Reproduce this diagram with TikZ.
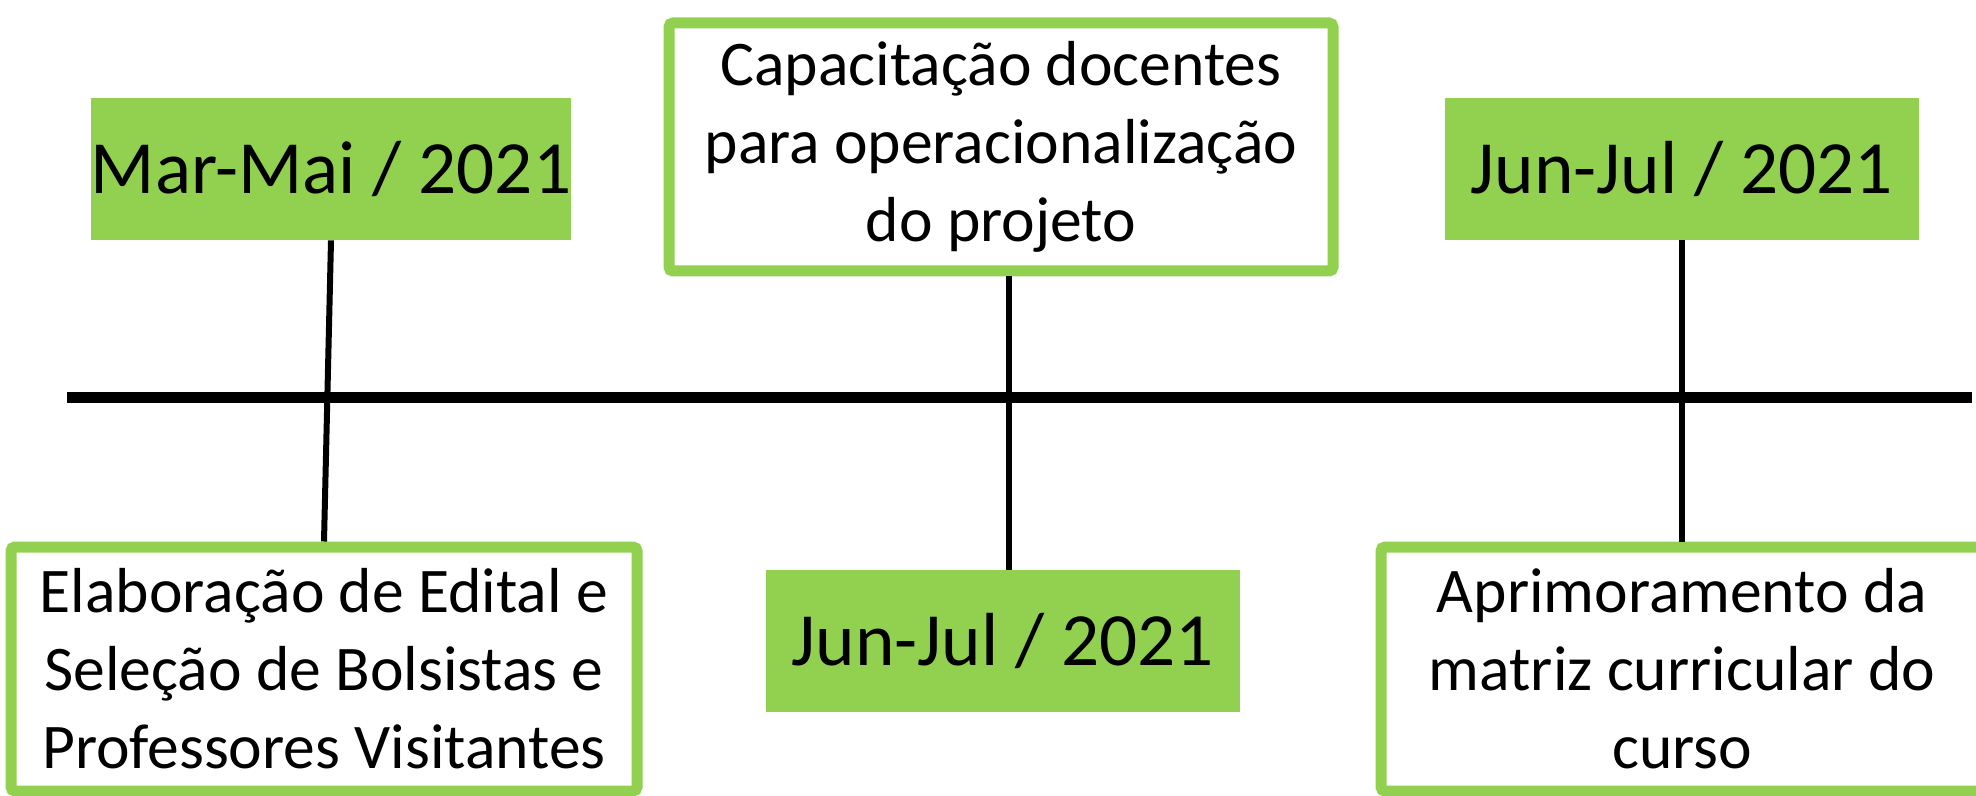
\documentclass[tikz,border=0pt]{standalone}
\usepackage{fontspec}
\setmainfont{Carlito}
\usetikzlibrary{positioning}

\definecolor{officegreen}{HTML}{92D050}

\tikzset{
	datebox/.style={fill=officegreen, inner sep=0pt, minimum width=237pt, minimum height=71pt,
		font=\fontsize{37.6pt}{44pt}\selectfont},
	eventbox/.style={draw=officegreen, line width=5.5pt, fill=white, rounded corners=2pt,
		inner sep=0pt, align=center, font=\fontsize{31.8pt}{39pt}\selectfont},
	stem/.style={line width=3pt}
}

\begin{document}
\begin{tikzpicture}[x=0.5pt, y=-0.5pt]
			\useasboundingbox (0, 0) rectangle (1976, 796);
			
			\coordinate (tlstart) at (67, 398);
			\coordinate (tlend) at (1972, 398);
			
			\draw[line width=5.5pt] (tlstart) -- (tlend);
			
			\node[datebox, minimum width=240pt] (mar) at (331, 169) {Mar-Mai / 2021};
			\node[datebox] (juntop) at (1682, 169) {Jun-Jul / 2021};
			\node[datebox] (junbot) at (1003, 641) {Jun-Jul / 2021};
			
			\node[eventbox, minimum width=332pt, minimum height=124pt] (capac) at (1001, 147)
				{Capacitação docentes\\para operacionalização\\do projeto};
			\node[eventbox, minimum width=313pt, minimum height=122pt] (elab) at (324, 669)
				{Elaboração de Edital e\\Seleção de Bolsistas e\\Professores Visitantes};
			\node[eventbox, minimum width=301pt, minimum height=122pt] (aprim) at (1682, 669)
				{Aprimoramento da\\matriz curricular do\\curso};
			
			\draw[stem] (mar.south) -- (elab.north);
			\draw[stem] ([xshift=4pt]capac.south) -- ([xshift=3pt]junbot.north);
			\draw[stem] (juntop.south) -- (aprim.north);
			
		\end{tikzpicture}
\end{document}
